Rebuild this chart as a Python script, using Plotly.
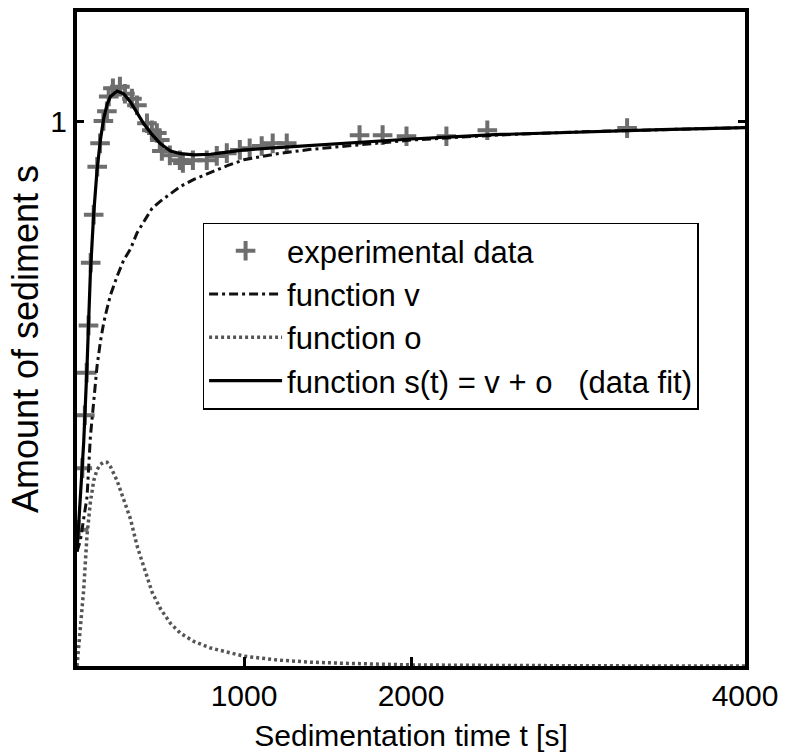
import plotly.graph_objects as go

# ---- data ----
t_curve = [0, 20, 40, 60, 80, 100, 120, 140, 160, 180, 200, 240, 280, 320, 360, 400,
           450, 500, 560, 620, 700, 800, 900, 1000, 1200, 1400, 1600, 1800, 2000,
           2500, 3000, 3500, 4000]
v_values = [0.21, 0.23, 0.27, 0.31, 0.42, 0.49, 0.55, 0.595, 0.63, 0.656, 0.68, 0.715,
            0.745, 0.765, 0.795, 0.815, 0.84, 0.853, 0.867, 0.88, 0.893, 0.906, 0.918,
            0.929, 0.94, 0.948, 0.954, 0.96, 0.965, 0.974, 0.98, 0.984, 0.988]
o_values = [0.0, 0.07, 0.14, 0.24, 0.30, 0.34, 0.36, 0.37, 0.374, 0.374, 0.366, 0.34,
            0.305, 0.27, 0.22, 0.18, 0.135, 0.105, 0.078, 0.06, 0.045, 0.033, 0.025,
            0.018, 0.011, 0.007, 0.005, 0.003, 0.002, 0.001, 0.0, 0.0, 0.0]
s_values = [0.21, 0.30, 0.41, 0.55, 0.72, 0.83, 0.91, 0.965, 1.005, 1.03, 1.045, 1.055,
            1.05, 1.035, 1.015, 0.995, 0.975, 0.958, 0.945, 0.94, 0.938, 0.939, 0.943,
            0.947, 0.951, 0.955, 0.959, 0.963, 0.967, 0.975, 0.98, 0.984, 0.988]

t_data = [10, 32, 47, 58, 69, 82, 100, 121, 138, 158, 179, 190, 215, 257, 287, 329,
          359, 419, 448, 478, 496, 508, 556, 616, 634, 694, 777, 837, 897, 975, 1034,
          1106, 1172, 1256, 1692, 1830, 1973, 2212, 2457, 3294]
s_data = [0.25, 0.363, 0.46, 0.538, 0.625, 0.74, 0.828, 0.916, 0.959, 1.0, 1.018, 1.045,
          1.06, 1.063, 1.05, 1.041, 1.029, 0.996, 0.983, 0.978, 0.965, 0.945, 0.937,
          0.928, 0.923, 0.928, 0.928, 0.936, 0.941, 0.947, 0.95, 0.954, 0.959, 0.959,
          0.974, 0.974, 0.972, 0.972, 0.983, 0.987]

x_ticks = [1000, 2000, 4000]
y_ticks = [1]

FONT = "Liberation Sans, Arial, sans-serif"

fig = go.Figure()
fig.add_trace(go.Scatter(
    x=t_data, y=s_data, mode="markers", name="experimental data", legendgroup="a",
    marker=dict(symbol="cross-thin", size=14, color="#6e6e6e",
                line=dict(width=4, color="#6e6e6e"))))
fig.add_trace(go.Scatter(
    x=t_curve, y=v_values, mode="lines", name="function v", legendgroup="b",
    line=dict(color="#111111", width=3, dash="9px,4px,3px,4px")))
fig.add_trace(go.Scatter(
    x=t_curve, y=o_values, mode="lines", name="function o", legendgroup="c",
    line=dict(color="#555555", width=3.5, dash="3px,3px")))
fig.add_trace(go.Scatter(
    x=t_curve, y=s_values, mode="lines", legendgroup="d",
    name="function s(t) = v + o\u00a0\u00a0\u00a0(data fit)",
    line=dict(color="#000000", width=3.2)))

fig.update_layout(
    width=786, height=756,
    margin=dict(l=77, r=40, t=8, b=90),
    paper_bgcolor="white", plot_bgcolor="white",
    font=dict(family=FONT, size=30, color="black"),
    showlegend=True,
    legend=dict(
        x=0.188, y=0.678, xanchor="left", yanchor="top",
        bgcolor="white", bordercolor="black", borderwidth=1.5,
        font=dict(family=FONT, size=31, color="black"),
        itemwidth=73, tracegroupgap=0, traceorder="grouped",
    ),
)
fig.update_xaxes(
    range=[0, 4000], tickvals=x_ticks, ticktext=[str(v) for v in x_ticks],
    ticks="inside", ticklen=9, tickwidth=3, tickcolor="black",
    showline=True, linecolor="black", linewidth=4, mirror=True,
    showgrid=False, zeroline=False,
    tickfont=dict(size=30),
    title=dict(text="Sedimentation time t [s]", standoff=15, font=dict(size=30)),
)
fig.update_yaxes(
    range=[0, 1.2], tickvals=y_ticks, ticktext=["1"],
    ticks="inside", ticklen=7, tickwidth=3, tickcolor="black",
    showline=True, linecolor="black", linewidth=4, mirror="ticks",
    showgrid=False, zeroline=False,
    tickfont=dict(size=30),
    title=dict(text="Amount of sediment s", standoff=2, font=dict(size=36)),
)

fig.write_html("out.html")
